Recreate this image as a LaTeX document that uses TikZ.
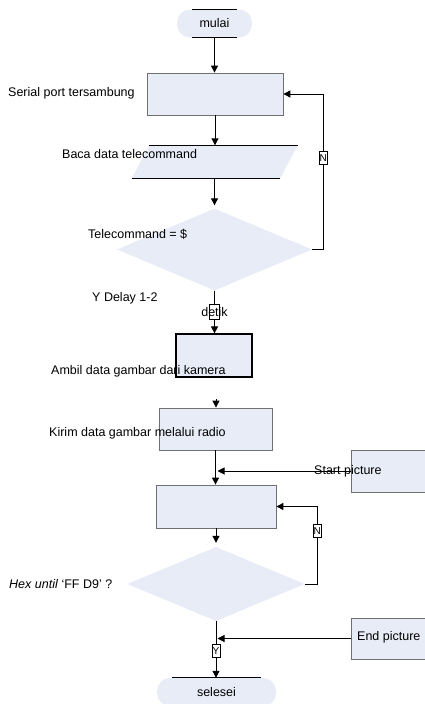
\documentclass[tikz,border=0pt]{standalone}
\usepackage{fontspec}
\setmainfont{Liberation Sans}
\usetikzlibrary{arrows.meta,shapes.geometric}
\definecolor{boxfill}{HTML}{E8ECF7}
\definecolor{boxline}{HTML}{707070}

\begin{document}
\begin{tikzpicture}[
    x=1pt, y=-1pt,
    every node/.style={font=\fontsize{12.5}{15}\selectfont},
    tip/.tip={Triangle[length=7pt,width=7pt]},
    arr/.style={-tip, line width=1pt},
    edge/.style={line width=1pt},
    proc/.style={draw=boxline, fill=boxfill, line width=0.8pt, inner sep=0pt},
    term/.style={fill=boxfill, rounded corners=13pt, inner sep=0pt, minimum height=28pt},
    dec/.style={diamond, fill=boxfill, inner sep=0pt},
    io/.style={inner sep=0pt, minimum width=148pt, minimum height=32.5pt},
    tag/.style={draw, fill=white, line width=0.8pt, inner sep=0pt, minimum width=8pt,
        minimum height=13pt, font=\fontsize{10}{10}\selectfont},
    lbl/.style={anchor=west, inner sep=0pt},
]
    \useasboundingbox (0,0) rectangle (424,704);

    % shapes
    \node[term, minimum width=75pt] (mulai) at (214.5,23.5) {mulai};
    \node[proc, minimum width=136pt, minimum height=42pt] (serial) at (215,94) {};
    \node[io] (baca) at (214.5,161.75) {};
    \node[dec, minimum width=195pt, minimum height=82pt] (tcmd) at (214.5,249.5) {};
    \node[proc, draw=black, line width=1.2pt, minimum width=76pt, minimum height=43pt] (ambil) at (214,355.5) {};
    \node[proc, minimum width=113pt, minimum height=42pt] (kirim) at (215.5,429) {};
    \node[proc, minimum width=120pt, minimum height=43pt] (buffer) at (216,506.5) {};
    \node[proc, anchor=west, minimum width=80pt, minimum height=42pt] (startpic) at (351,471) {};
    \node[dec, minimum width=178pt, minimum height=74pt] (hex) at (216,584) {};
    \node[proc, anchor=west, minimum width=80pt, minimum height=41pt] (endpic) at (351,638.5) {};
    \node[term, minimum width=119pt] (selesei) at (216.5,692) {selesei};

    % strokes of the terminators and the data box
    \draw[edge] ([xshift=-22.5pt]mulai.north) -- ([xshift=22.5pt]mulai.north);
    \draw[edge] ([xshift=-22.5pt]mulai.south) -- ([xshift=22.5pt]mulai.south);
    \fill[boxfill] ([xshift=9pt]baca.north west) -- ([xshift=9pt]baca.north east)
        -- ([xshift=-8.5pt]baca.south east) -- ([xshift=-8.5pt]baca.south west) -- cycle;
    \draw[edge] ([xshift=9pt]baca.north west) -- ([xshift=9pt]baca.north east);
    \draw[edge] ([xshift=-8.5pt]baca.south west) -- ([xshift=-8.5pt]baca.south east);
    \draw[edge] ([xshift=-45pt]selesei.north) -- ([xshift=44pt]selesei.north);

    % connectors
    \draw[arr] (mulai.south) -- (mulai.south |- serial.north);
    \draw[arr] (serial.south) -- (serial.south |- baca.north);
    \draw[arr, shorten >=3pt] (baca.south) -- (baca.south |- tcmd.north);
    \draw[arr] (tcmd.east) -- ++(11,0) |- node[tag, pos=0.295] (n1) {N} (serial.east);
    \draw[arr] (tcmd.south) -- node[tag, minimum width=10pt, minimum height=15pt] (y1) {} (tcmd.south |- ambil.north);
    \coordinate (gap) at (216,399);
    \draw[arr] (gap) -- (gap |- kirim.north);
    \draw[arr] (kirim.south) -- (kirim.south |- buffer.north);
    \draw[arr] (startpic.west) -- ([xshift=1.5pt]startpic.west -| buffer.north);
    \draw[arr, shorten >=4pt] (buffer.south) -- (buffer.south |- hex.north);
    \draw[arr] (hex.east) -- ++(12,0) |- node[tag, pos=0.34] (n2) {N} (buffer.east);
    \draw[arr] (hex.south) -- node[tag, pos=0.53] (y2) {Y} (hex.south |- selesei.north);
    \draw[arr] (endpic.west) -- ([xshift=1.5pt]endpic.west -| hex.south);

    % labels
    \node[lbl] (lserial) at (8,93) {Serial port tersambung};
    \node[lbl] (lbaca) at (62,154) {Baca data telecommand};
    \node[lbl] (ltcmd) at (88,234) {Telecommand = \$};
    \node[lbl] (ldelay) at (92,298) {Y Delay 1-2};
    \node[inner sep=0pt] (ldetik) at (y1) {detik};
    \node[lbl] (lambil) at (51,371) {Ambil data gambar dari kamera};
    \node[lbl] (lkirim) at (49,433) {Kirim data gambar melalui radio};
    \node[lbl] (lstart) at (314,471) {Start picture};
    \node[lbl] (lhex) at (9,584) {\textit{Hex until} `FF D9' ?};
    \node[lbl] (lend) at (357,637) {End picture};
\end{tikzpicture}
\end{document}
